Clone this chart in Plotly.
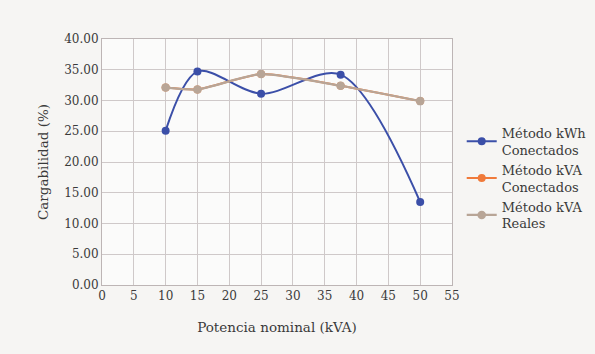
import plotly.graph_objects as go

x_vals = [10, 15, 25, 37.5, 50]
kwh_conectados = [25.1, 34.7, 31.1, 34.2, 13.5]
kva_conectados = [32.1, 31.8, 34.3, 32.4, 29.9]
kva_reales = [32.1, 31.8, 34.3, 32.4, 29.9]
names = ["Método kWh<br>Conectados", "Método kVA<br>Conectados", "Método kVA<br>Reales"]

ff = "DejaVu Serif"
fig = go.Figure()
fig.add_trace(go.Scatter(x=x_vals, y=kwh_conectados, name=names[0], mode="lines+markers",
                         line=dict(color="#3b4fa8", width=2, shape="spline", smoothing=0.9),
                         marker=dict(size=8, color="#3b4fa8")))
fig.add_trace(go.Scatter(x=x_vals, y=kva_conectados, name=names[1], mode="lines+markers",
                         line=dict(color="#f07a3a", width=2, shape="spline", smoothing=0.6),
                         marker=dict(size=8, color="#f07a3a")))
fig.add_trace(go.Scatter(x=x_vals, y=kva_reales, name=names[2], mode="lines+markers",
                         line=dict(color="#b8a596", width=2.2, shape="spline", smoothing=0.6),
                         marker=dict(size=8.5, color="#b8a596")))

fig.update_layout(
    width=595, height=354,
    margin=dict(l=102, r=143, t=39, b=69, autoexpand=False),
    paper_bgcolor="#f6f5f3", plot_bgcolor="#fbfbfa",
    font=dict(family=ff, size=13, color="#3a3a3a"),
    showlegend=True,
    legend=dict(xref="container", yref="container", x=0.776, y=0.667,
                xanchor="left", yanchor="top", bgcolor="rgba(0,0,0,0)",
                font=dict(family=ff, size=13, color="#3a3a3a"),
                itemwidth=30, tracegroupgap=4),
)
fig.update_xaxes(range=[0, 55], tickvals=list(range(0, 60, 5)), showgrid=True,
                 gridcolor="#cfc9c9", gridwidth=1, showline=True, linecolor="#bdb5b5",
                 mirror=True, zeroline=False, ticks="",
                 tickfont=dict(family=ff, size=12),
                 title=dict(text="Potencia nominal (kVA)",
                            font=dict(family=ff, size=13.5), standoff=20))
fig.update_yaxes(range=[0, 40], tickvals=list(range(0, 45, 5)), tickformat=".2f",
                 showgrid=True, gridcolor="#cfc9c9", gridwidth=1, showline=True,
                 linecolor="#bdb5b5", mirror=True, zeroline=False, ticks="",
                 tickfont=dict(family=ff, size=12),
                 title=dict(text="Cargabilidad (%)",
                            font=dict(family=ff, size=13.5), standoff=12))

fig.write_html("out.html")
